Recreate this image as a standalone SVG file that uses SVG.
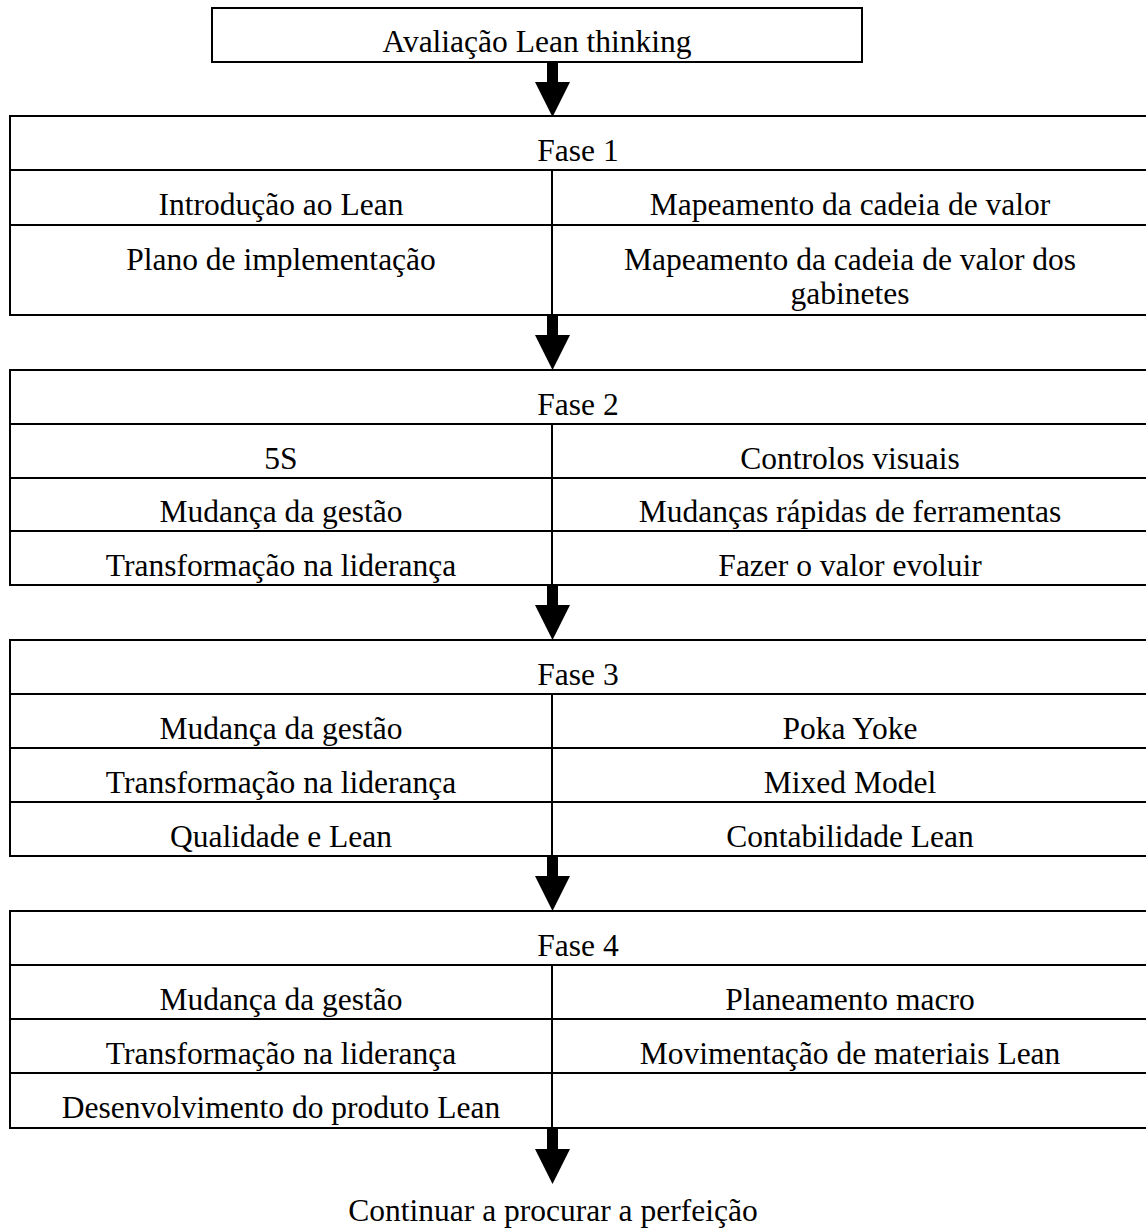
<svg xmlns="http://www.w3.org/2000/svg" width="1146" height="1231" viewBox="0 0 1146 1231">
  <style>
    .box { fill: #fff; stroke: #000; stroke-width: 2; }
    .rule { stroke: #000; stroke-width: 2; fill: none; }
    .arrow { fill: #000; stroke: none; }
    text { font-family: "Liberation Serif", "Times New Roman", serif; font-size: 31.5px; fill: #000; text-anchor: middle; }
  </style>

  <!-- Assessment box -->
  <g id="avaliacao">
    <rect class="box" x="212" y="8" width="650" height="54"/>
    <text x="537" y="52">Avaliação Lean thinking</text>
  </g>

  <!-- Phase 1 -->
  <g id="fase1">
    <rect class="box" x="10" y="116" width="1137" height="199"/>
    <line class="rule" x1="10" y1="170" x2="1147" y2="170"/>
    <line class="rule" x1="10" y1="225" x2="1147" y2="225"/>
    <line class="rule" x1="552" y1="170" x2="552" y2="315"/>
    <text x="578" y="161">Fase 1</text>
    <text x="281" y="215">Introdução ao Lean</text>
    <text x="850" y="215">Mapeamento da cadeia de valor</text>
    <text x="281" y="270">Plano de implementação</text>
    <text x="850" y="270">Mapeamento da cadeia de valor dos</text>
    <text x="850" y="304">gabinetes</text>
  </g>

  <!-- Phase 2 -->
  <g id="fase2">
    <rect class="box" x="10" y="370" width="1137" height="215"/>
    <line class="rule" x1="10" y1="424" x2="1147" y2="424"/>
    <line class="rule" x1="10" y1="478" x2="1147" y2="478"/>
    <line class="rule" x1="10" y1="531" x2="1147" y2="531"/>
    <line class="rule" x1="552" y1="424" x2="552" y2="585"/>
    <text x="578" y="415">Fase 2</text>
    <text x="281" y="469">5S</text>
    <text x="850" y="469">Controlos visuais</text>
    <text x="281" y="522">Mudança da gestão</text>
    <text x="850" y="522">Mudanças rápidas de ferramentas</text>
    <text x="281" y="576">Transformação na liderança</text>
    <text x="850" y="576">Fazer o valor evoluir</text>
  </g>

  <!-- Phase 3 -->
  <g id="fase3">
    <rect class="box" x="10" y="640" width="1137" height="216"/>
    <line class="rule" x1="10" y1="694" x2="1147" y2="694"/>
    <line class="rule" x1="10" y1="748" x2="1147" y2="748"/>
    <line class="rule" x1="10" y1="802" x2="1147" y2="802"/>
    <line class="rule" x1="552" y1="694" x2="552" y2="856"/>
    <text x="578" y="685">Fase 3</text>
    <text x="281" y="739">Mudança da gestão</text>
    <text x="850" y="739">Poka Yoke</text>
    <text x="281" y="793">Transformação na liderança</text>
    <text x="850" y="793">Mixed Model</text>
    <text x="281" y="847">Qualidade e Lean</text>
    <text x="850" y="847">Contabilidade Lean</text>
  </g>

  <!-- Phase 4 -->
  <g id="fase4">
    <rect class="box" x="10" y="911" width="1137" height="217"/>
    <line class="rule" x1="10" y1="965" x2="1147" y2="965"/>
    <line class="rule" x1="10" y1="1019" x2="1147" y2="1019"/>
    <line class="rule" x1="10" y1="1073" x2="1147" y2="1073"/>
    <line class="rule" x1="552" y1="965" x2="552" y2="1128"/>
    <text x="578" y="956">Fase 4</text>
    <text x="281" y="1010">Mudança da gestão</text>
    <text x="850" y="1010">Planeamento macro</text>
    <text x="281" y="1064">Transformação na liderança</text>
    <text x="850" y="1064">Movimentação de materiais Lean</text>
    <text x="281" y="1118">Desenvolvimento do produto Lean</text>
  </g>

  <!-- Closing statement -->
  <g id="perfeicao">
    <text x="553" y="1221">Continuar a procurar a perfeição</text>
  </g>

  <!-- Block arrows between stages -->
  <g id="connectors">
    <path class="arrow" d="M547,62 H558 V82 H570 L552.5,117 L535,82 H547 Z"/>
    <path class="arrow" d="M547,315 H558 V335 H570 L552.5,370 L535,335 H547 Z"/>
    <path class="arrow" d="M547,585 H558 V605 H570 L552.5,640 L535,605 H547 Z"/>
    <path class="arrow" d="M547,856 H558 V876 H570 L552.5,911 L535,876 H547 Z"/>
    <path class="arrow" d="M547,1128 H558 V1149 H570 L552.5,1184 L535,1149 H547 Z"/>
  </g>
</svg>
